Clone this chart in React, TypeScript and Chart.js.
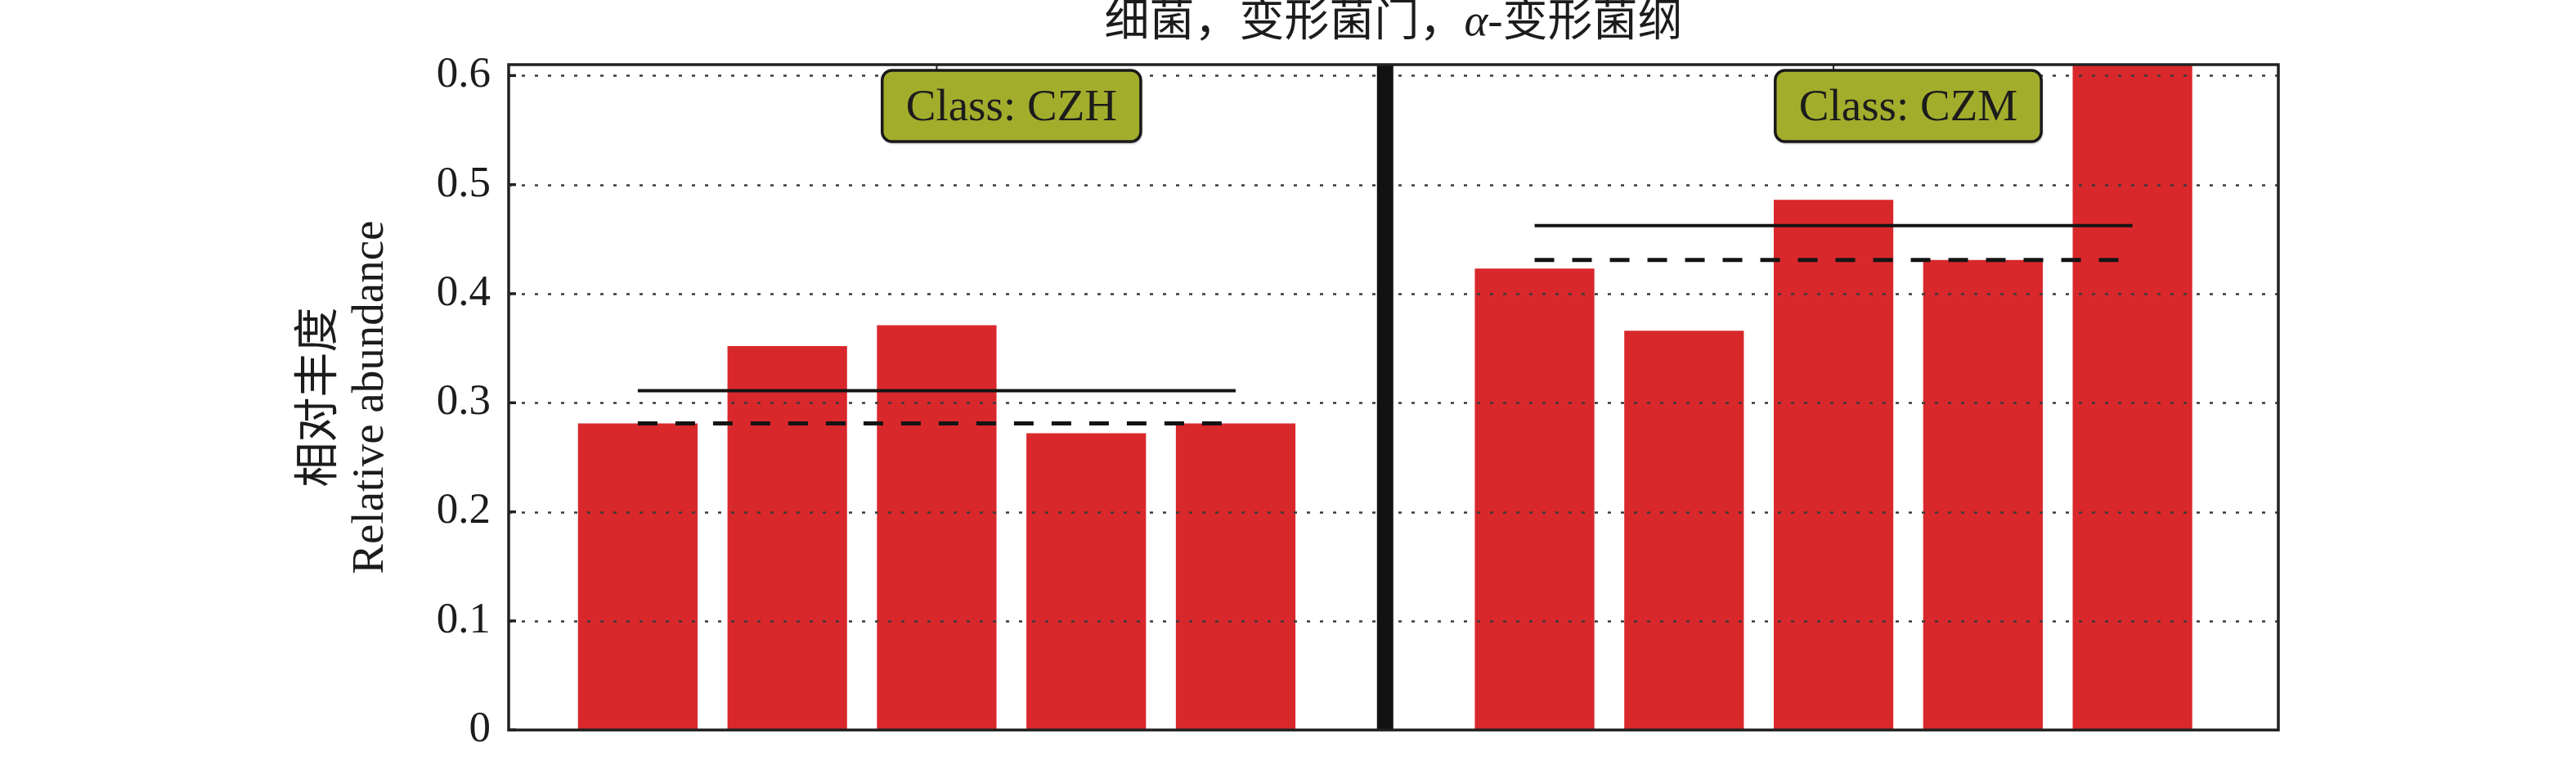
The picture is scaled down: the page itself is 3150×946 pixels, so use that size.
import React, { useEffect, useRef } from "react";
import { Chart, registerables } from "chart.js";

Chart.register(...registerables);

// ---- data ----
const groupLabels = ["Class: CZH", "Class: CZM"];
const czhPositions = [0, 1, 2, 3, 4];
const czmPositions = [6, 7, 8, 9, 10];
const czhValues = [0.281, 0.352, 0.371, 0.272, 0.281];
const czmValues = [0.423, 0.366, 0.486, 0.431, 0.615];
const meanValues = [0.311, 0.4625];
const medianValues = [0.281, 0.431];
const yTickValues = [0, 0.1, 0.2, 0.3, 0.4, 0.5, 0.6];
const dividerPosition = 5;
const groupCenters = [2, 8];
const labelCenters = [2.5, 8.5];
const titleParts = [
  { text: "细菌，变形菌门，", italic: false },
  { text: "α", italic: true },
  { text: "-变形菌纲", italic: false },
];
const yTitleLines = ["相对丰度", "Relative abundance"];

const TEXT = "#1c1c1c";
const BAR_RED = "#d9282c";
const OLIVE = "#a3ad2c";
const SERIF = "'Liberation Serif', 'Noto Sans CJK SC', serif";

const decorPlugin = {
  id: "decor",
  afterDatasetsDraw(chart: any) {
    const { ctx, chartArea, scales } = chart;
    const y = scales.y;
    ctx.save();
    ctx.strokeStyle = "#3a3a3a";
    ctx.lineWidth = 2.5;
    ctx.setLineDash([4, 12]);
    for (const v of yTickValues) {
      if (v === 0) continue;
      const py = Math.round(y.getPixelForValue(v)) + 0.5;
      ctx.beginPath();
      ctx.moveTo(chartArea.left, py);
      ctx.lineTo(chartArea.right, py);
      ctx.stroke();
    }
    ctx.restore();
  },
  afterDraw(chart: any) {
    const { ctx, chartArea, scales } = chart;
    const x = scales.x;
    const y = scales.y;
    const { left, right, top, bottom } = chartArea;
    ctx.save();

    // divider between groups
    const dx = x.getPixelForValue(dividerPosition);
    ctx.fillStyle = "#111111";
    ctx.fillRect(dx - 10, top, 20, bottom - top);

    // frame
    ctx.strokeStyle = "#222222";
    ctx.lineWidth = 3.5;
    ctx.setLineDash([]);
    ctx.strokeRect(left, top, right - left, bottom - top);

    // inner y ticks
    ctx.lineWidth = 3.5;
    for (const v of yTickValues) {
      const py = y.getPixelForValue(v);
      ctx.beginPath();
      ctx.moveTo(left, py);
      ctx.lineTo(left + 9, py);
      ctx.stroke();
    }

    // top ticks at group centers
    ctx.lineWidth = 2;
    for (const c of groupCenters) {
      const px = x.getPixelForValue(c);
      ctx.beginPath();
      ctx.moveTo(px, top);
      ctx.lineTo(px, top + 9);
      ctx.stroke();
    }

    // group labels
    ctx.font = `55px ${SERIF}`;
    ctx.textBaseline = "middle";
    ctx.textAlign = "center";
    groupLabels.forEach((label, i) => {
      const cx = x.getPixelForValue(labelCenters[i]);
      const w = ctx.measureText(label).width + 58;
      const h = 87;
      const bx = cx - w / 2;
      const by = top + 7;
      ctx.save();
      ctx.shadowColor = "rgba(0,0,0,0.45)";
      ctx.shadowOffsetX = 1;
      ctx.shadowOffsetY = 2;
      ctx.shadowBlur = 3;
      ctx.beginPath();
      ctx.roundRect(bx, by, w, h, 12);
      ctx.fillStyle = OLIVE;
      ctx.fill();
      ctx.restore();
      ctx.beginPath();
      ctx.roundRect(bx, by, w, h, 12);
      ctx.lineWidth = 3.5;
      ctx.strokeStyle = "#1a1a1a";
      ctx.stroke();
      ctx.fillStyle = TEXT;
      ctx.fillText(label, cx, by + h / 2 + 3);
    });

    // title
    const midX = (left + right) / 2;
    const fontFor = (it: boolean) => `${it ? "italic " : ""}55px ${SERIF}`;
    let total = 0;
    const widths = titleParts.map((p) => {
      ctx.font = fontFor(p.italic);
      const w = ctx.measureText(p.text).width;
      total += w;
      return w;
    });
    let tx = midX - total / 2;
    ctx.textAlign = "left";
    ctx.textBaseline = "middle";
    ctx.fillStyle = TEXT;
    titleParts.forEach((p, i) => {
      ctx.font = fontFor(p.italic);
      ctx.fillText(p.text, tx, 29);
      tx += widths[i];
    });

    // y-axis title (two lines, rotated)
    const midY = (top + bottom) / 2;
    const lineXs = [392, 454];
    ctx.font = `55px ${SERIF}`;
    ctx.textAlign = "center";
    yTitleLines.forEach((line, i) => {
      ctx.save();
      ctx.translate(lineXs[i], midY);
      ctx.rotate(-Math.PI / 2);
      ctx.fillText(line, 0, 0);
      ctx.restore();
    });

    ctx.restore();
  },
};

export default function App() {
  const canvasRef = useRef<HTMLCanvasElement | null>(null);

  useEffect(() => {
    document.body.style.margin = "0";
    document.body.style.overflow = "hidden";
    const canvas = canvasRef.current;
    if (!canvas) return;

    const barData = [
      ...czhPositions.map((p, i) => ({ x: p, y: czhValues[i] })),
      ...czmPositions.map((p, i) => ({ x: p, y: czmValues[i] })),
    ];
    const groups = [czhPositions, czmPositions];
    const meanData = groups.map((g, i) => [
      { x: g[0], y: meanValues[i] },
      { x: g[g.length - 1], y: meanValues[i] },
    ]);
    const medianData = groups.map((g, i) => [
      { x: g[0], y: medianValues[i] },
      { x: g[g.length - 1], y: medianValues[i] },
    ]);

    const lineBase = {
      type: "line" as const,
      pointRadius: 0,
      borderColor: "#141414",
      fill: false,
      order: 0,
      tension: 0,
    };

    const chart = new Chart(canvas, {
      type: "bar",
      data: {
        datasets: [
          {
            type: "bar",
            label: "Relative abundance",
            data: barData as any,
            backgroundColor: BAR_RED,
            borderWidth: 0,
            barPercentage: 0.8,
            categoryPercentage: 1,
            order: 1,
          },
          ...meanData.map((d, i) => ({
            ...lineBase,
            label: `mean ${i}`,
            data: d,
            borderWidth: 4,
          })),
          ...medianData.map((d, i) => ({
            ...lineBase,
            label: `median ${i}`,
            data: d,
            borderWidth: 5,
            borderDash: [24, 22],
          })),
        ] as any,
      },
      options: {
        animation: false,
        responsive: true,
        maintainAspectRatio: false,
        layout: { padding: { left: 0, right: 364, top: 79, bottom: 32 } },
        plugins: {
          legend: { display: false },
          title: { display: false },
          tooltip: { enabled: false },
        },
        scales: {
          x: {
            type: "linear",
            min: -0.864,
            max: 10.976,
            offset: false,
            display: false,
            grid: { display: false },
            ticks: { stepSize: 1, includeBounds: false },
          },
          y: {
            type: "linear",
            min: 0,
            max: 0.61,
            grid: { display: false, drawTicks: false },
            border: { display: false },
            ticks: {
              stepSize: 0.1,
              includeBounds: false,
              padding: 22,
              color: TEXT,
              font: { family: SERIF, size: 53 },
            },
            afterFit: (scale: any) => {
              scale.width = 622;
            },
          },
        },
      },
      plugins: [decorPlugin],
    });

    return () => chart.destroy();
  }, []);

  return (
    <div style={{ width: "3150px", height: "946px", position: "relative" }}>
      <canvas ref={canvasRef} />
    </div>
  );
}
